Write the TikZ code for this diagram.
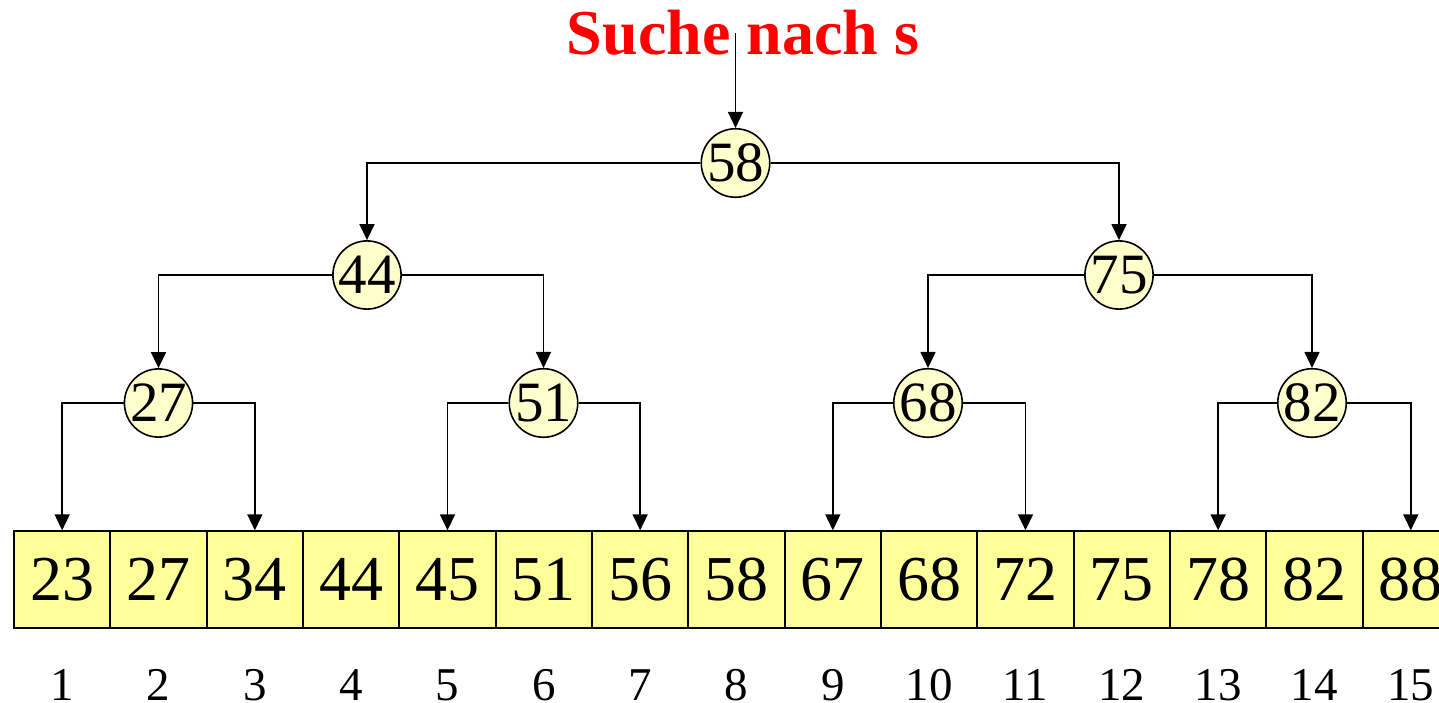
\documentclass[tikz,border=0pt]{standalone}
\usepackage{fontspec}
\setmainfont{Liberation Serif}
\usetikzlibrary{arrows.meta}
\definecolor{cellfill}{RGB}{255,255,153}
\definecolor{keyfill}{RGB}{255,255,204}
\begin{document}
\begin{tikzpicture}[x=1pt,y=-1pt,
  cell/.style={draw=black,line width=1.8pt,fill=cellfill,rectangle,
    minimum width=96.33pt,minimum height=96.5pt,inner sep=0pt,
    font=\fontsize{64}{64}\selectfont},
  key/.style={draw=black,line width=1.6pt,fill=keyfill,circle,
    minimum size=64pt,inner sep=0pt,font=\fontsize{57}{57}\selectfont},
  idx/.style={anchor=base,inner sep=0pt,font=\fontsize{47}{47}\selectfont},
  link/.style={line width=1.5pt,-{Triangle[length=16pt,width=15pt]}}]
\useasboundingbox (0,0) rectangle (1439,703);

% sorted array with its positions
\foreach \v [count=\i] in {23,27,34,44,45,51,56,58,67,68,72,75,78,82,88} {
  \pgfmathsetmacro{\cx}{14+(\i-0.5)*96.33}
  \node[cell] (c\i) at (\cx,579.5) {\v};
  \node[idx] (i\i) at (\cx,700) {\i};
}

% title and entry point
\node[anchor=base,inner sep=0pt,text=red,
  font=\fontsize{64}{64}\selectfont\bfseries] (title) at (743,55) {Suche nach s};
\coordinate (start) at (735.5,33);

% search tree
\node[key] (n58) at (735.5,163) {58};
\node[key] (n44) at (367,275) {44};
\node[key] (n75) at (1119,275) {75};
\node[key] (n27) at (158.5,403) {27};
\node[key] (n51) at (543.5,403) {51};
\node[key] (n68) at (928,403) {68};
\node[key] (n82) at (1312,403) {82};

\draw[link] (start) -- (n58);
\draw[link] (n58) -| (n44);
\draw[link] (n58) -| (n75);
\draw[link] (n44) -| (n27);
\draw[link] (n44) -| (n51);
\draw[link] (n75) -| (n68);
\draw[link] (n75) -| (n82);

\draw[link] (n27) -| (c1);
\draw[link] (n27) -| (c3);
\draw[link] (n51) -| (c5);
\draw[link] (n51) -| (c7);
\draw[link] (n68) -| (c9);
\draw[link] (n68) -| (c11);
\draw[link] (n82) -| (c13);
\draw[link] (n82) -| (c15);
\end{tikzpicture}
\end{document}
